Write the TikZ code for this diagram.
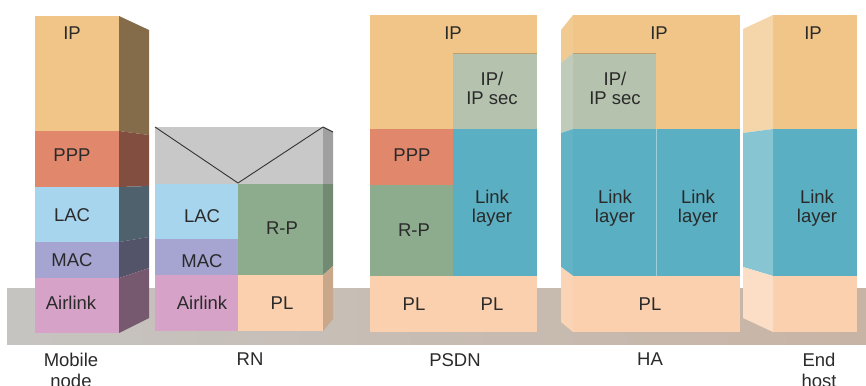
\documentclass[tikz,border=0pt]{standalone}
\usepackage{fontspec}
\setmainfont{Liberation Sans}
\definecolor{txt}{RGB}{42,42,42}
\definecolor{ipc}{RGB}{240,197,135}
\definecolor{pppc}{RGB}{224,135,108}
\definecolor{lacc}{RGB}{168,213,238}
\definecolor{macc}{RGB}{166,165,210}
\definecolor{airc}{RGB}{214,162,200}
\definecolor{rpc}{RGB}{141,172,142}
\definecolor{plc}{RGB}{251,208,174}
\definecolor{secc}{RGB}{181,194,173}
\definecolor{linkc}{RGB}{90,175,194}
\definecolor{rnc}{RGB}{200,200,200}
\definecolor{gndl}{RGB}{198,196,193}
\definecolor{gndr}{RGB}{200,180,165}
\begin{document}
\begin{tikzpicture}[x=1pt,y=-1pt]
% label styles
\tikzstyle{lbl}=[text=txt,inner sep=0,align=center,font=\fontsize{18.5}{19}\selectfont]
\tikzstyle{stack name}=[text=txt,inner sep=0,align=center,font=\fontsize{18.5}{21}\selectfont]
\tikzset{
edge line/.style={draw=black!80,line width=0.9pt,line join=round},
ip shadow/.style={draw=ipc!80!black,line width=0.8pt}
}
\useasboundingbox (0,0) rectangle (866,385);
\shade[left color=gndl,right color=gndr] (7,288) rectangle (866,344);

% Mobile node
\fill[ipc] (35,16) rectangle (119,131);
\fill[pppc] (35,131) rectangle (119,187);
\fill[lacc] (35,187) rectangle (119,242);
\fill[macc] (35,242) rectangle (119,278);
\fill[airc] (35,278) rectangle (119,333);
\fill[ipc!55!black] (119,16) -- (149,30) -- (149,135) -- (119,131) -- cycle;
\fill[pppc!58!black] (119,131) -- (149,135) -- (149,186) -- (119,187) -- cycle;
\fill[lacc!45!black!95!gray] (119,187) -- (149,186) -- (149,237) -- (119,242) -- cycle;
\fill[macc!50!black] (119,242) -- (149,237) -- (149,268) -- (119,278) -- cycle;
\fill[airc!55!black] (119,278) -- (149,268) -- (149,318) -- (119,333) -- cycle;
\node[lbl] (mnip) at (72,33) {IP};
\node[lbl] (mnppp) at (72,155) {PPP};
\node[lbl] (mnlac) at (72,215) {LAC};
\node[lbl] (mnmac) at (72,260) {MAC};
\node[lbl] (mnair) at (71,303) {Airlink};

% RN
\fill[rnc] (155,127) rectangle (323,184);
\fill[lacc] (155,184) rectangle (238,239);
\fill[macc] (155,239) rectangle (238,275);
\fill[airc] (155,275) rectangle (238,331);
\fill[rpc] (238,184) rectangle (323,275);
\fill[plc] (238,275) rectangle (323,331);
\fill[rnc!80!black] (323,127) -- (333,132) -- (333,184) -- (323,184) -- cycle;
\fill[rpc!80!black] (323,184) -- (333,184) -- (333,266) -- (323,275) -- cycle;
\fill[plc!80!black] (323,275) -- (333,266) -- (333,319) -- (323,331) -- cycle;
\coordinate (rnl) at (155,127);
\coordinate (rnv) at (238,183);
\coordinate (rnr) at (323,127);
\coordinate (rnb) at (333,132);
\draw[edge line] (rnl) -- (rnv) -- (rnr) -- (rnb);
\node[lbl] (rnlac) at (202,216) {LAC};
\node[lbl] (rnmac) at (202,261) {MAC};
\node[lbl] (rnair) at (202,303) {Airlink};
\node[lbl] (rnrp) at (282,228) {R-P};
\node[lbl] (rnpl) at (282,303) {PL};

% PSDN
\fill[ipc] (370,15) rectangle (537,53);
\fill[ipc] (370,53) rectangle (453,129);
\fill[secc] (453,53) rectangle (537,129);
\fill[pppc] (370,129) rectangle (453,185);
\fill[rpc] (370,185) rectangle (453,276);
\fill[linkc] (453,129) rectangle (537,276);
\fill[plc] (370,276) rectangle (537,332);
\draw[ip shadow] (453,53.5) -- (537,53.5);
\node[lbl] (psip) at (453,33) {IP};
\node[lbl] (pssec) at (492,88) {IP/\\IP sec};
\node[lbl] (psppp) at (412,155) {PPP};
\node[lbl] (psrp) at (414,230) {R-P};
\node[lbl] (pslink) at (492,208) {Link\\layer};
\node[lbl] (pspla) at (414,304) {PL};
\node[lbl] (psplb) at (492,304) {PL};

% HA
\fill[ipc] (573,15) rectangle (740,53);
\fill[ipc] (656,53) rectangle (740,129);
\fill[secc] (573,53) rectangle (656,129);
\fill[linkc] (573,129) rectangle (740,276);
\fill[plc] (573,276) rectangle (740,332);
\fill[ipc!92!white] (561,30) -- (573,15) -- (573,53) -- (561,63) -- cycle;
\fill[secc!85!white] (561,63) -- (573,53) -- (573,129) -- (561,133) -- cycle;
\fill[linkc!95!white] (561,133) -- (573,129) -- (573,276) -- (561,267) -- cycle;
\fill[plc!92!white] (561,267) -- (573,276) -- (573,332) -- (561,322) -- cycle;
\draw[linkc!60!white,line width=0.6pt] (656,129) -- (656,276);
\draw[ip shadow] (573,53.5) -- (656,53.5);
\node[lbl] (haip) at (659,33) {IP};
\node[lbl] (hasec) at (615,88) {IP/\\IP sec};
\node[lbl] (halinka) at (615,208) {Link\\layer};
\node[lbl] (halinkb) at (698,208) {Link\\layer};
\node[lbl] (hapl) at (650,304) {PL};

% End host
\fill[ipc] (773,15) rectangle (857,129);
\fill[linkc] (773,129) rectangle (857,276);
\fill[plc] (773,276) rectangle (857,332);
\fill[ipc!70!white] (743,29) -- (773,15) -- (773,129) -- (743,133) -- cycle;
\fill[linkc!72!white] (743,133) -- (773,129) -- (773,276) -- (743,267) -- cycle;
\fill[plc!70!white] (743,267) -- (773,276) -- (773,332) -- (743,318) -- cycle;
\node[lbl] (ehip) at (813,33) {IP};
\node[lbl] (ehlink) at (817,208) {Link\\layer};

% names under the stacks
\node[stack name,anchor=north] (mobile) at (71,353) {Mobile\\node};
\node[stack name,anchor=north] (rn) at (250,353) {RN};
\node[stack name,anchor=north] (psdn) at (455,353) {PSDN};
\node[stack name,anchor=north] (ha) at (650,353) {HA};
\node[stack name,anchor=north] (endhost) at (819,353) {End\\host};
\end{tikzpicture}
\end{document}
